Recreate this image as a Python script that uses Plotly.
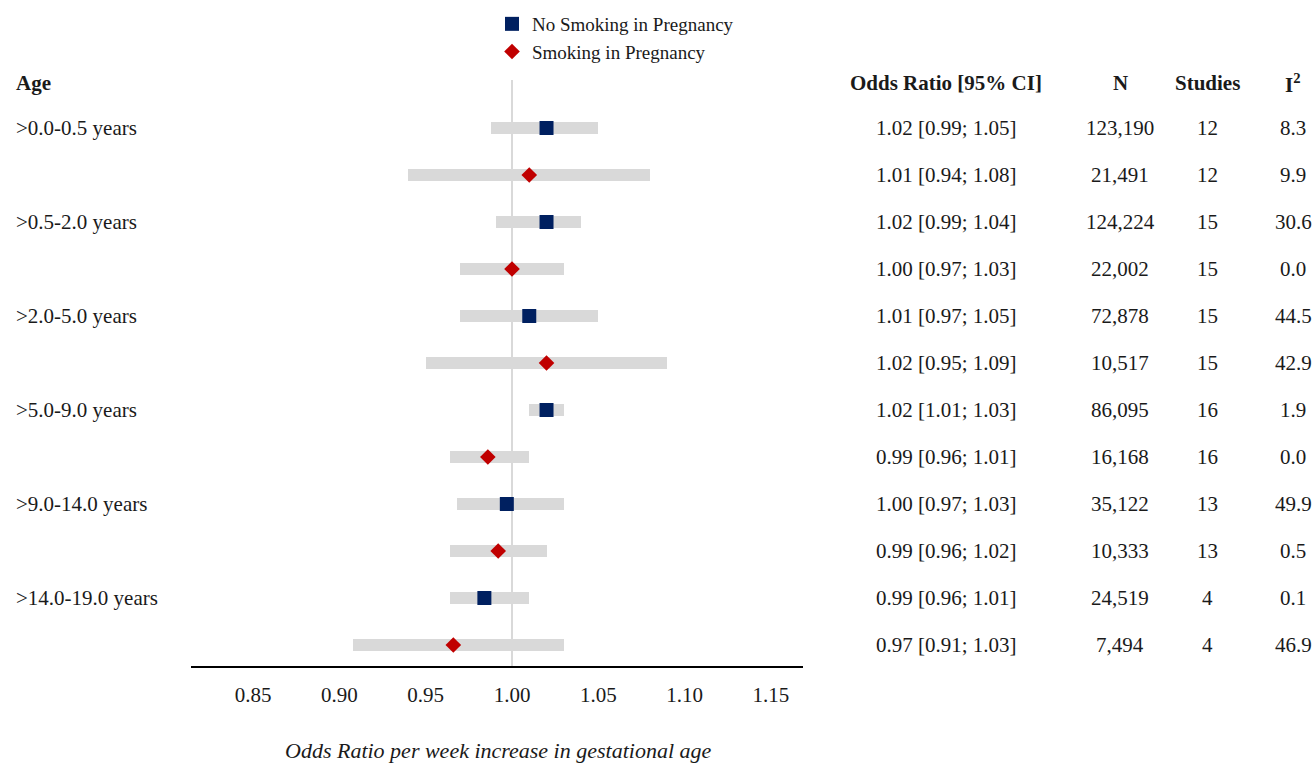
import plotly.graph_objects as go

# ---------------- data ----------------
age_groups = [">0.0-0.5 years", ">0.5-2.0 years", ">2.0-5.0 years",
              ">5.0-9.0 years", ">9.0-14.0 years", ">14.0-19.0 years"]
series_names = ["No Smoking in Pregnancy", "Smoking in Pregnancy"]
# rows alternate: no smoking, smoking for each age group
estimate = [1.020, 1.010, 1.020, 1.000, 1.010, 1.020, 1.020, 0.986, 0.997, 0.992, 0.984, 0.966]
ci_low   = [0.988, 0.940, 0.991, 0.970, 0.970, 0.950, 1.010, 0.964, 0.968, 0.964, 0.964, 0.908]
ci_high  = [1.050, 1.080, 1.040, 1.030, 1.050, 1.090, 1.030, 1.010, 1.030, 1.020, 1.010, 1.030]
or_text = ["1.02 [0.99; 1.05]", "1.01 [0.94; 1.08]", "1.02 [0.99; 1.04]", "1.00 [0.97; 1.03]",
           "1.01 [0.97; 1.05]", "1.02 [0.95; 1.09]", "1.02 [1.01; 1.03]", "0.99 [0.96; 1.01]",
           "1.00 [0.97; 1.03]", "0.99 [0.96; 1.02]", "0.99 [0.96; 1.01]", "0.97 [0.91; 1.03]"]
n_text = ["123,190", "21,491", "124,224", "22,002", "72,878", "10,517",
          "86,095", "16,168", "35,122", "10,333", "24,519", "7,494"]
studies = [12, 12, 15, 15, 15, 15, 16, 16, 13, 13, 4, 4]
i2_text = ["8.3", "9.9", "30.6", "0.0", "44.5", "42.9", "1.9", "0.0", "49.9", "0.5", "0.1", "46.9"]
tick_vals = [0.85, 0.90, 0.95, 1.00, 1.05, 1.10, 1.15]
headers = ["Age", "Odds Ratio [95% CI]", "N", "Studies", "I<sup>2</sup>"]
x_title = "Odds Ratio per week increase in gestational age"

# ---------------- layout helpers ----------------
W, H = 1315, 763
FONT = "Liberation Serif, Times New Roman, serif"
TXT = "#1a1a1a"
FS = 21
rows = list(range(1, len(estimate) + 1))
PX_ROW0, PX_STEP = 128, 47
PLOT_TOP, PLOT_BOTTOM = 80, 666
def px_to_row(py):
    return 1 + (py - PX_ROW0) / PX_STEP

def px(x):
    return x / W

fig = go.Figure()

# CI bars
fig.add_trace(go.Bar(
    y=rows, x=[h - l for l, h in zip(ci_low, ci_high)], base=ci_low,
    orientation="h", width=12 / PX_STEP,
    marker=dict(color="#d9d9d9", line=dict(width=0)),
    showlegend=False, hoverinfo="skip"))

# point estimates
ns_idx = [i for i in range(len(rows)) if i % 2 == 0]
sm_idx = [i for i in range(len(rows)) if i % 2 == 1]
fig.add_trace(go.Scatter(
    x=[estimate[i] for i in ns_idx], y=[rows[i] for i in ns_idx], mode="markers",
    name=series_names[0],
    marker=dict(symbol="square", size=14, color="#002060", line=dict(width=0))))
fig.add_trace(go.Scatter(
    x=[estimate[i] for i in sm_idx], y=[rows[i] for i in sm_idx], mode="markers",
    name=series_names[1],
    marker=dict(symbol="diamond", size=12, color="#c00000", line=dict(width=0))))

# reference line at 1.00
fig.add_shape(type="line", xref="x", yref="paper", x0=1.0, x1=1.0,
              y0=1 - PLOT_BOTTOM / H, y1=1 - PLOT_TOP / H,
              line=dict(color="#d9d9d9", width=2), layer="below")

ann = []
# headers
hdr_y = px_to_row(83)
ann.append(dict(x=px(14), y=hdr_y, text="<b>" + headers[0] + "</b>", xanchor="left"))
for txt, cx in zip(headers[1:], [946, 1120, 1207, 1293]):
    ann.append(dict(x=px(cx), y=hdr_y, text="<b>" + txt + "</b>", xanchor="center"))
# age group labels
for g, lab in enumerate(age_groups):
    ann.append(dict(x=px(14), y=rows[2 * g], text=lab, xanchor="left"))
# table
for i, r in enumerate(rows):
    ann.append(dict(x=px(946), y=r, text=or_text[i], xanchor="center"))
    ann.append(dict(x=px(1120), y=r, text=n_text[i], xanchor="center"))
    ann.append(dict(x=px(1207), y=r, text=str(studies[i]), xanchor="center"))
    ann.append(dict(x=px(1293), y=r, text=i2_text[i], xanchor="center"))
for a in ann:
    a.update(xref="paper", yref="y", yanchor="middle", showarrow=False,
             font=dict(family=FONT, size=FS, color=TXT))
# x-axis title
ann.append(dict(x=px(498), y=1 - 750 / H, xref="paper", yref="paper",
                text="<i>" + x_title + "</i>", showarrow=False,
                xanchor="center", yanchor="middle",
                font=dict(family=FONT, size=FS + 1, color=TXT)))

x0_val = 1.0 - (512 - 191) / 86.3 * 0.05
x1_val = 1.0 + (803 - 512) / 86.3 * 0.05

fig.update_layout(
    width=W, height=H,
    margin=dict(l=0, r=0, t=0, b=0),
    paper_bgcolor="white", plot_bgcolor="white",
    annotations=ann,
    bargap=0,
    xaxis=dict(domain=[px(191), px(803)], range=[x0_val, x1_val],
               tickvals=tick_vals, tickformat=".2f",
               showgrid=False, zeroline=False,
               showline=True, linecolor="black", linewidth=2,
               ticks="", ticklabelstandoff=9,
               tickfont=dict(family=FONT, size=FS, color=TXT)),
    yaxis=dict(domain=[1 - PLOT_BOTTOM / H, 1 - PLOT_TOP / H],
               range=[px_to_row(PLOT_BOTTOM), px_to_row(PLOT_TOP)],
               showgrid=False, zeroline=False, showline=False,
               showticklabels=False, ticks=""),
    legend=dict(x=px(492), y=1 - 5 / H, xanchor="left", yanchor="top",
                font=dict(family=FONT, size=FS - 2, color=TXT),
                bgcolor="rgba(0,0,0,0)", tracegroupgap=0,
                itemwidth=30),
    showlegend=True,
)

fig.write_html("out.html", config={"displayModeBar": False},
               post_script="document.body.style.margin='0';document.body.style.overflow='hidden';")
